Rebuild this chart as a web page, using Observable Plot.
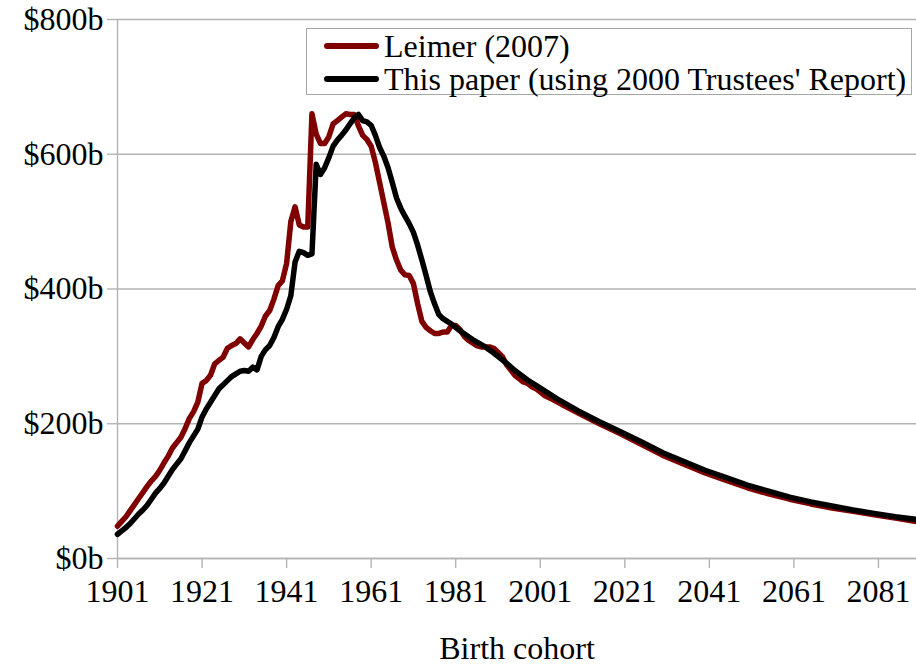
<!DOCTYPE html>
<html>
<head>
<meta charset="utf-8">
<script src="https://cdn.jsdelivr.net/npm/d3@7"></script>
<script src="https://cdn.jsdelivr.net/npm/@observablehq/plot@0.6"></script>
<style>
  html, body { margin: 0; padding: 0; background: #fff; }
  #wrap { position: relative; width: 916px; height: 666px; font-family: "Liberation Serif", "Times New Roman", serif; }
  #wrap svg { display: block; }
  #wrap svg text { font-family: "Liberation Serif", "Times New Roman", serif; }
  #legend { position: absolute; left: 306px; top: 28px; width: 606px; height: 67px; border: 1px solid #a6a6a6; box-sizing: border-box; background: #fff; }
  .item { position: absolute; left: 0; height: 34px; display: flex; align-items: center; font-size: 32px; white-space: nowrap; color: #000; font-family: "Liberation Serif", "Times New Roman", serif; }
  .item svg { margin-left: 17px; margin-right: 5px; }
</style>
</head>
<body>
<div id="wrap"></div>
<script>
// ---- Data, values in $ billions ----
const seriesNames = ["Leimer (2007)", "This paper (using 2000 Trustees' Report)"];
const seriesColors = ["#800000", "#000000"];

const leimerYears = d3.range(1901, 2001).concat([2002, 2004, 2006, 2010, 2015, 2020, 2025, 2030, 2035, 2040, 2045, 2050, 2055, 2060, 2065, 2070, 2075, 2080, 2085, 2090]);
const leimerValues = [
  48, 55, 62, 71, 80, 89, 98, 107, 115, 122,
  131, 142, 152, 164, 172, 180, 193, 208, 218, 232,
  260, 264, 272, 289, 294, 299, 312, 316, 319, 326,
  320, 314, 325, 334, 345, 360, 368, 385, 405, 412,
  438, 500, 522, 495, 492, 492, 660, 630, 616, 616,
  626, 645, 650, 655, 660, 659, 659, 642, 628, 622,
  612, 588, 558, 528, 498, 462, 443, 428, 421, 420,
  408, 378, 352, 343, 338, 334, 334, 336, 336, 346,
  346, 340, 330, 324, 320, 316, 314, 314, 314, 312,
  306, 300, 288, 280, 272, 267, 262, 260, 255, 252,
  242, 236, 229, 216, 200, 185, 169, 153, 140, 127,
  116, 105, 96, 88, 81, 75, 70, 65, 60, 55
];

const paperYears = d3.range(1901, 1981).concat([1982, 1985, 1988, 1990, 1993, 1995, 1998, 2000, 2005, 2010, 2015, 2020, 2025, 2030, 2035, 2040, 2045, 2050, 2055, 2060, 2065, 2070, 2075, 2080, 2085, 2090]);
const paperValues = [
  36, 41, 46, 52, 59, 66, 72, 79, 88, 97,
  104, 112, 122, 132, 140, 148, 160, 172, 182, 192,
  210, 222, 232, 242, 252, 258, 264, 270, 274, 278,
  279, 278, 284, 280, 300, 310, 316, 328, 344, 355,
  370, 390, 440, 456, 454, 450, 452, 585, 570, 580,
  595, 612, 621, 628, 636, 645, 654, 659, 650, 648,
  643, 628, 610, 597, 580, 558, 535, 520, 508, 497,
  484, 465, 443, 420, 396, 378, 362, 356, 352, 348,
  338, 325, 314, 305, 290, 279, 265, 257, 237, 219,
  203, 188, 173, 157, 144, 131, 120, 109, 100, 91,
  84, 78, 72, 67, 62, 58
];

const xTicks = [1901, 1921, 1941, 1961, 1981, 2001, 2021, 2041, 2061, 2081];
const yTicks = [0, 200, 400, 600, 800];
const xLabel = "Birth cohort";

// ---- Build tables ----
const leimer = leimerYears.map((year, i) => ({year, value: leimerValues[i]}));
const paper = paperYears.map((year, i) => ({year, value: paperValues[i]}));

const gridColor = "#b3b3b3";
const serif = "'Liberation Serif', 'Times New Roman', serif";

const chart = Plot.plot({
  width: 916,
  height: 666,
  marginLeft: 117,
  marginRight: 0,
  marginTop: 19,
  marginBottom: 108,
  style: { fontFamily: serif, fontSize: "32px", color: "#000", background: "#fff", overflow: "visible" },
  x: { domain: [1901, 2090] },
  y: { domain: [0, 800] },
  marks: [
    Plot.gridY(yTicks, { stroke: gridColor, strokeOpacity: 1, strokeWidth: 1.4 }),
    Plot.axisY(yTicks, { tickSize: 10, tickPadding: 4, stroke: gridColor, strokeWidth: 1.4, fill: "#000", tickFormat: d => `$${d}b`, label: null }),
    Plot.axisX(xTicks, { tickSize: 10, tickPadding: 11, stroke: gridColor, strokeWidth: 1.4, fill: "#000", tickFormat: d => String(d), label: null }),
    Plot.ruleX([1901], { stroke: gridColor, strokeWidth: 1.4 }),
    Plot.ruleY([0], { stroke: gridColor, strokeWidth: 1.4 }),
    Plot.line(leimer, { x: "year", y: "value", stroke: seriesColors[0], strokeWidth: 5.5, strokeLinejoin: "round", strokeLinecap: "round" }),
    Plot.line(paper, { x: "year", y: "value", stroke: seriesColors[1], strokeWidth: 5.5, strokeLinejoin: "round", strokeLinecap: "round" }),
    Plot.text([xLabel], { text: d => d, frameAnchor: "bottom", dy: 100, fill: "#000", fontSize: 32 })
  ]
});

const wrap = document.getElementById("wrap");
wrap.appendChild(chart);

// ---- Legend (boxed, top right inside plot) ----
const legend = document.createElement("div");
legend.id = "legend";
seriesNames.forEach((name, i) => {
  const item = document.createElement("div");
  item.className = "item";
  item.style.top = (i === 0 ? 0 : 33) + "px";
  item.innerHTML = `<svg width="55" height="10"><line x1="3" y1="5" x2="52" y2="5" stroke="${seriesColors[i]}" stroke-width="6" stroke-linecap="round"/></svg><span>${name}</span>`;
  legend.appendChild(item);
});
wrap.appendChild(legend);
</script>
</body>
</html>
